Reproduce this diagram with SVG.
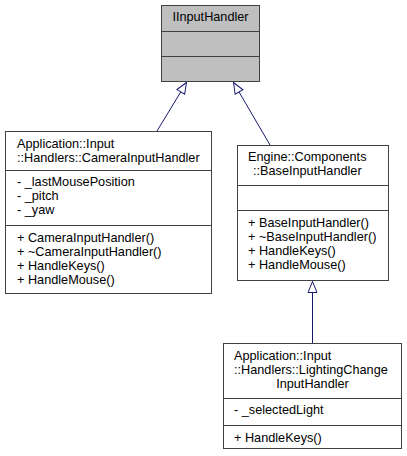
<svg xmlns="http://www.w3.org/2000/svg" width="407" height="456" viewBox="0 0 407 456">
<defs>
<style>
.box{fill:#ffffff;stroke:#404040;stroke-width:1}
.root{fill:#bfbfbf;stroke:#404040;stroke-width:1}
.sep{stroke:#404040;stroke-width:1;fill:none}
text{font-family:"Liberation Sans",Arial,sans-serif;font-size:12.7px;fill:#000000}
.edge{stroke:#191970;stroke-width:1;fill:none;marker-end:url(#inh)}
</style>
<marker id="inh" viewBox="-12 -6 13 12" refX="0" refY="0" markerWidth="13" markerHeight="12" markerUnits="userSpaceOnUse" orient="auto">
<path d="M0,0 L-11,-4.5 L-11,4.5 Z" fill="#ffffff" stroke="#191970" stroke-width="1"/>
</marker>
</defs>
<rect width="407" height="456" fill="#ffffff"/>
<g id="connectors">
<path class="edge" d="M157,131 L186.5,82.5"/>
<path class="edge" d="M270,145 L233.5,82.5"/>
<path class="edge" d="M312.5,343 L312.5,281.5"/>
</g>
<g id="IInputHandler">
<rect class="root" x="161.5" y="5.5" width="98" height="76"/>
<path class="sep" d="M161.5,31.5 H259.5 M161.5,56.5 H259.5"/>
<text x="210.5" y="21" text-anchor="middle">IInputHandler</text>
</g>
<g id="CameraInputHandler">
<rect class="box" x="5.5" y="131.5" width="206" height="162"/>
<path class="sep" d="M5.5,170.5 H211.5 M5.5,225.5 H211.5"/>
<text x="17" y="147.5">Application::Input</text>
<text x="17" y="161.5">::Handlers::CameraInputHandler</text>
<text x="17" y="186">- _lastMousePosition</text>
<text x="17" y="200">- _pitch</text>
<text x="17" y="214">- _yaw</text>
<text x="17" y="241.5">+ CameraInputHandler()</text>
<text x="17" y="255.5">+ ~CameraInputHandler()</text>
<text x="17" y="269.5">+ HandleKeys()</text>
<text x="17" y="283.5">+ HandleMouse()</text>
</g>
<g id="BaseInputHandler">
<rect class="box" x="237.5" y="145.5" width="151" height="135"/>
<path class="sep" d="M237.5,185.5 H388.5 M237.5,210.5 H388.5"/>
<text x="248" y="160.5">Engine::Components</text>
<text x="253" y="174.5">::BaseInputHandler</text>
<text x="248" y="226.5">+ BaseInputHandler()</text>
<text x="248" y="240.5">+ ~BaseInputHandler()</text>
<text x="248" y="254.5">+ HandleKeys()</text>
<text x="248" y="268.5">+ HandleMouse()</text>
</g>
<g id="LightingChangeInputHandler">
<rect class="box" x="223.5" y="343.5" width="178" height="105"/>
<path class="sep" d="M223.5,398.5 H401.5 M223.5,425.5 H401.5"/>
<text x="234" y="359.5">Application::Input</text>
<text x="234" y="373.5">::Handlers::LightingChange</text>
<text x="312.5" y="387.5" text-anchor="middle">InputHandler</text>
<text x="234" y="414">- _selectedLight</text>
<text x="234" y="441.5">+ HandleKeys()</text>
</g>
</svg>
